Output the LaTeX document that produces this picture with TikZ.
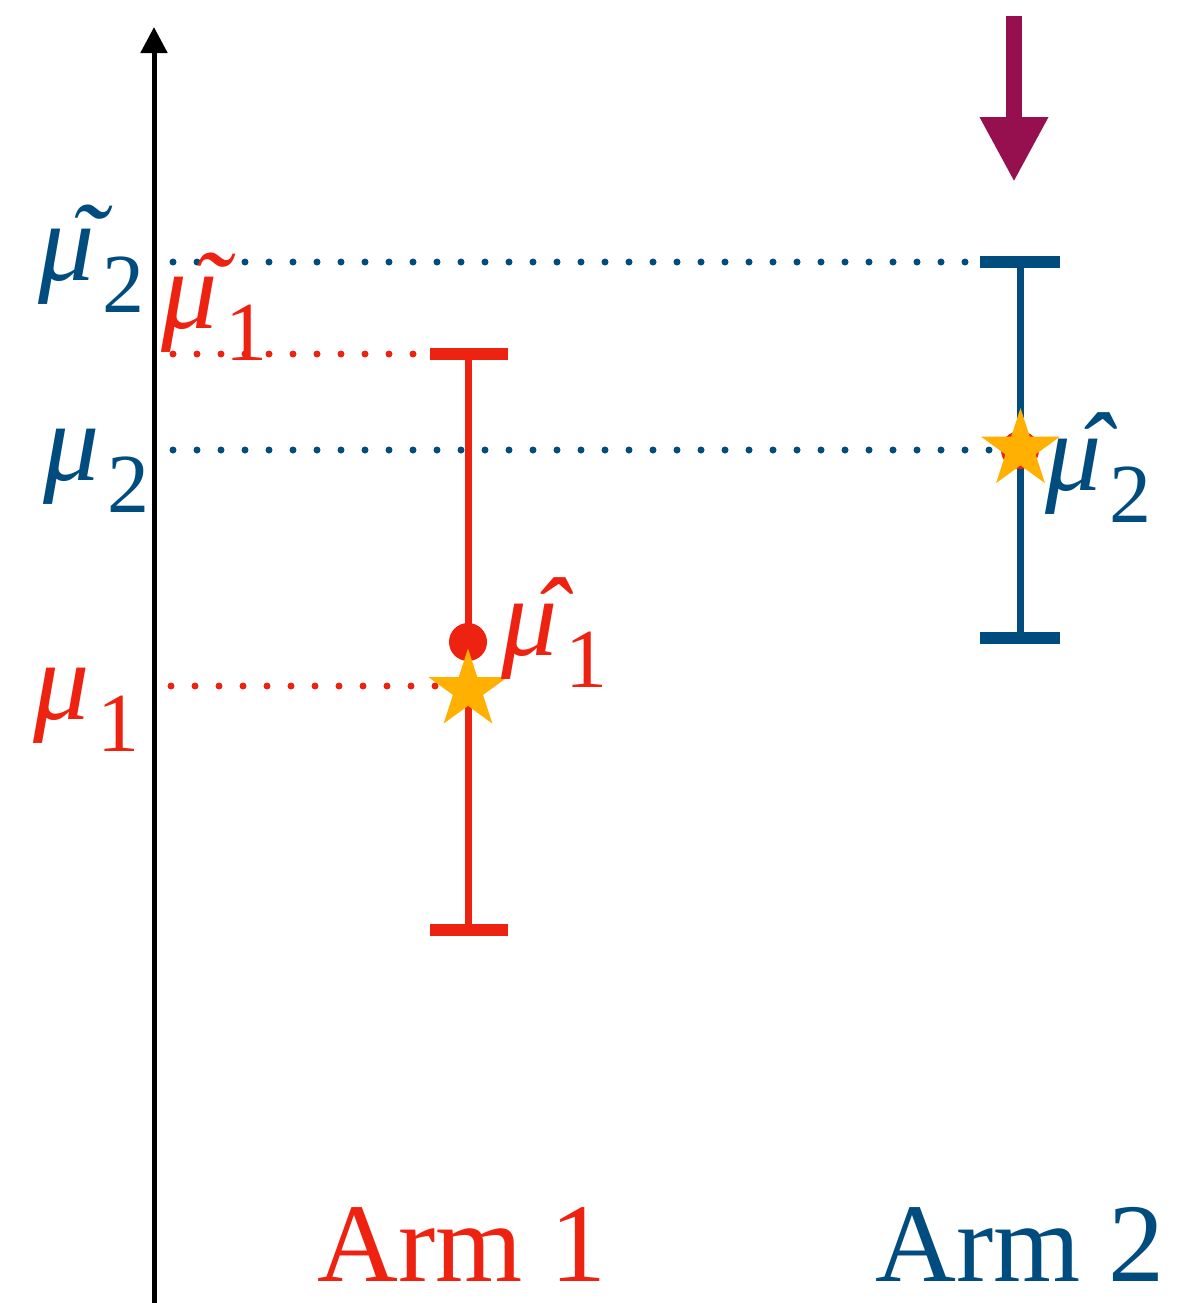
\documentclass[tikz,border=0pt]{standalone}
\usepackage[no-math]{fontspec}
\setmainfont{Liberation Serif}
\usetikzlibrary{arrows.meta,shapes.geometric}
\definecolor{armred}{RGB}{238,34,17}
\definecolor{armblue}{RGB}{0,76,127}
\definecolor{staror}{RGB}{255,176,0}
\definecolor{arrowpurple}{RGB}{150,16,80}
% mu label: #1 accent glyph (or empty), #2 subscript
\newcommand{\mulab}[2]{\hbox{\fontsize{56}{64}\selectfont\itshape\rlap{\hspace{15pt}#1}μ}\kern4pt\raisebox{-16pt}{\fontsize{42}{48}\selectfont #2}}
\tikzset{
  lbl/.style={inner sep=0pt, anchor=base west},
  armlbl/.style={inner sep=0pt, anchor=base, font=\fontsize{56}{66}\selectfont},
  dots/.style={line width=3.5pt, line cap=round, dash pattern=on 0pt off 12pt},
  barline/.style={line width=3.5pt},
  capline/.style={line width=6pt},
  estar/.style={star, star points=5, star point ratio=2.618, minimum size=41.5pt, inner sep=0pt, fill=staror, draw=none},
}
\begin{document}
\begin{tikzpicture}[x=0.5pt,y=-0.5pt]
\useasboundingbox (0,0) rectangle (1178,1303);
% axis
\coordinate (axb) at (154,1303);
\coordinate (axt) at (154,27);
\draw[line width=2.5pt,-{Triangle[width=13pt,length=13pt]}] (axb) -- (axt);
% purple arrow
\coordinate (pa) at (1014,16);
\coordinate (pb) at (1014,182);
\draw[arrowpurple, line width=8pt, -{Triangle[width=32pt,length=32.5pt]}] (pa) -- (pb);
% coordinates of bars
\coordinate (r1t) at (468,354);
\coordinate (r1b) at (468,930);
\coordinate (r1tl) at (430,354);
\coordinate (r1tr) at (508,354);
\coordinate (r1bl) at (430,930);
\coordinate (r1br) at (508,930);
\coordinate (b2t) at (1020,262);
\coordinate (b2b) at (1020,638);
\coordinate (b2tl) at (980,262);
\coordinate (b2tr) at (1060,262);
\coordinate (b2bl) at (980,638);
\coordinate (b2br) at (1060,638);
% dotted lines
\coordinate (d1a) at (173,262); \coordinate (d1b) at (975,262);
\coordinate (d2a) at (173,450); \coordinate (d2b) at (995,450);
\coordinate (d3a) at (173,354); \coordinate (d3b) at (425,354);
\coordinate (d4a) at (171,686); \coordinate (d4b) at (440,686);
\draw[dots, armblue] (d1a) -- (d1b);
\draw[dots, armblue] (d2a) -- (d2b);
\draw[dots, armred] (d3a) -- (d3b);
\draw[dots, armred] (d4a) -- (d4b);
% error bars
\draw[barline, armred] (r1t) -- (r1b);
\draw[capline, armred] (r1tl) -- (r1tr);
\draw[capline, armred] (r1bl) -- (r1br);
\draw[barline, armblue] (b2t) -- (b2b);
\draw[capline, armblue] (b2tl) -- (b2tr);
\draw[capline, armblue] (b2bl) -- (b2br);
% estimates
\fill[armred] (468,642) circle[radius=9.5pt];
\fill[armred] (1020,450) circle[radius=9.5pt];
\node[estar] (s1) at (468,690) {};
\node[estar] (s2) at (1020.5,449.5) {};
% labels
\node[lbl, text=armblue] (mt2) at (38,280) {\mulab{˜}{2}};
\node[lbl, text=armred] (mt1) at (161,328) {\mulab{˜}{1}};
\node[lbl, text=armblue] (m2) at (43,480) {\mulab{}{2}};
\node[lbl, text=armred] (m1) at (33,719) {\mulab{}{1}};
\node[lbl, text=armred] (mh1) at (501,655) {\mulab{ˆ}{1}};
\node[lbl, text=armblue] (mh2) at (1045,490) {\mulab{ˆ}{2}};
\node[armlbl, text=armred] (arm1) at (462,1281) {Arm 1};
\node[armlbl, text=armblue] (arm2) at (1020,1281) {Arm 2};
\end{tikzpicture}
\end{document}
